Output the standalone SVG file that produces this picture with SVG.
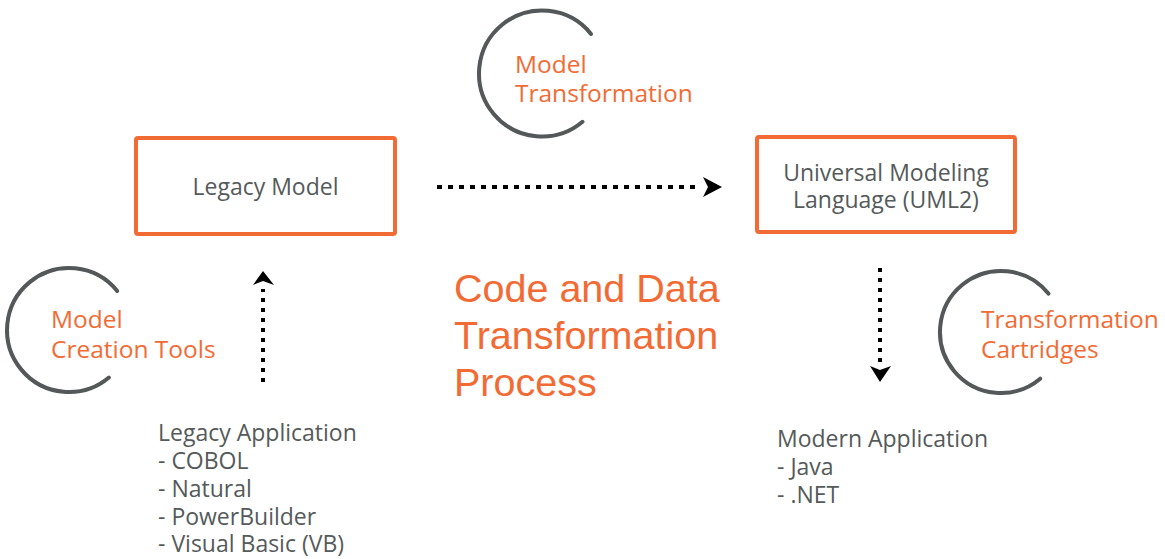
<svg xmlns="http://www.w3.org/2000/svg" width="1165" height="559" viewBox="0 0 1165 559">
<style>
.box{fill:#fff;stroke:#F26B35;stroke-width:4}
.arc{fill:none;stroke:#545858;stroke-width:4;stroke-linecap:round}
.gray{font-family:"Open Sans",sans-serif;font-size:23px;fill:#555a5a}
.orange{font-family:"Open Sans",sans-serif;font-size:24.5px;fill:#F26B35}
.title{font-family:"Liberation Sans",Arial,sans-serif;font-size:39.5px;fill:#F26B35}
.dot{fill:none;stroke:#000;stroke-width:4}
.head{fill:#000}
</style>
<rect width="1165" height="559" fill="#fff"/>
<g id="connectors">
<line class="dot" x1="437" y1="187" x2="701" y2="187" stroke-dasharray="5 6"/>
<path class="head" d="M703,177 L722,187 L703,197 L708,187 Z"/>
<line class="dot" x1="263" y1="382" x2="263" y2="289" stroke-dasharray="4 6"/>
<path class="head" d="M253,285 L263,271 L274,285 L263,281 Z"/>
<line class="dot" x1="880" y1="268" x2="880" y2="362" stroke-dasharray="4 6"/>
<path class="head" d="M870,366 L880,382 L891,366 L880,370 Z"/>
</g>
<g id="legacy-model">
<rect class="box" x="136" y="138" width="259" height="96" rx="2"/>
<text class="gray" x="265.5" y="195" text-anchor="middle">Legacy Model</text>
</g>
<g id="uml">
<rect class="box" x="757" y="137" width="258" height="95" rx="2"/>
<text class="gray" x="886" y="181" text-anchor="middle">Universal Modeling</text>
<text class="gray" x="886" y="208" text-anchor="middle">Language (UML2)</text>
</g>
<g id="model-transformation">
<path class="arc" d="M591,33.9 A63,63 0 1 0 582.5,121.8"/>
<text class="orange" x="515" y="73">Model</text>
<text class="orange" x="515" y="102">Transformation</text>
</g>
<g id="model-creation-tools">
<path class="arc" d="M117.2,291 A62,62 0 1 0 108.9,377.5"/>
<text class="orange" x="51" y="328">Model</text>
<text class="orange" x="51" y="358">Creation Tools</text>
</g>
<g id="transformation-cartridges">
<path class="arc" d="M1048.4,293.6 A61,61 0 1 0 1040.2,378.7"/>
<text class="orange" x="981" y="328">Transformation</text>
<text class="orange" x="981" y="358">Cartridges</text>
</g>
<g id="title">
<text class="title" x="454" y="302">Code and Data</text>
<text class="title" x="454" y="349">Transformation</text>
<text class="title" x="454" y="396">Process</text>
</g>
<g id="legacy-application">
<text class="gray" x="158" y="441">Legacy Application</text>
<text class="gray" x="158" y="469">- COBOL</text>
<text class="gray" x="158" y="497">- Natural</text>
<text class="gray" x="158" y="525">- PowerBuilder</text>
<text class="gray" x="158" y="552">- Visual Basic (VB)</text>
</g>
<g id="modern-application">
<text class="gray" x="777" y="447">Modern Application</text>
<text class="gray" x="777" y="475">- Java</text>
<text class="gray" x="777" y="503">- .NET</text>
</g>
</svg>
